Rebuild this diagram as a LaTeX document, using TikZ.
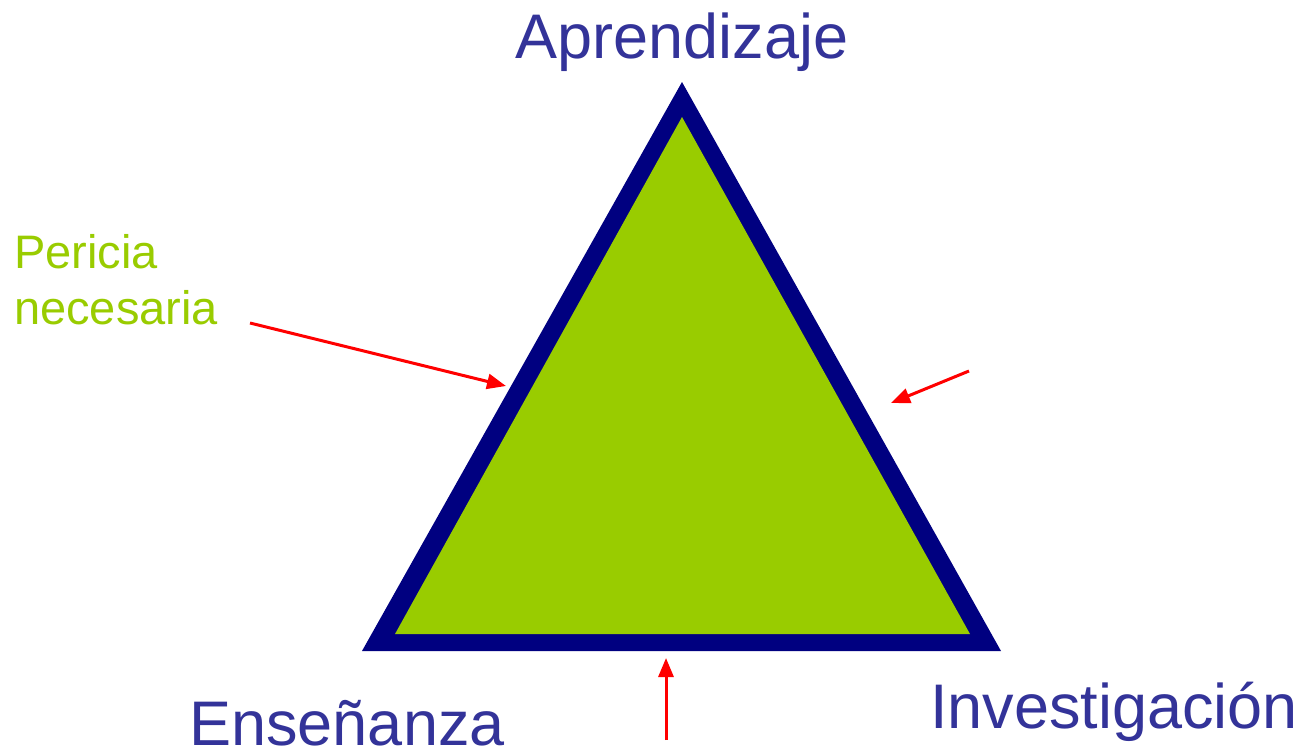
\documentclass[tikz,border=0pt]{standalone}
\usepackage{fontspec}
\setmainfont{Liberation Sans}
\usetikzlibrary{arrows.meta}
\definecolor{navy}{HTML}{000080}
\definecolor{lime}{HTML}{99CC00}
\definecolor{txtblue}{HTML}{333399}
\definecolor{arrred}{HTML}{FF0000}
\begin{document}
\begin{tikzpicture}[x=1pt,y=-1pt,
  bigtxt/.style={inner sep=0pt,text=txtblue,font=\fontsize{63}{75}\selectfont,anchor=base},
  greentxt/.style={inner sep=0pt,text=lime,font=\fontsize{47}{56}\selectfont,anchor=base west},
  redarrow/.style={draw=arrred,line width=3pt,-{Triangle[length=19pt,width=15pt]}}]
\useasboundingbox[fill=white] (0,0) rectangle (1309,750);
% triangle
\coordinate (A) at (682,82);
\coordinate (B) at (362,651);
\coordinate (C) at (1001,651);
\coordinate (Ai) at (682,117);
\coordinate (Bi) at (395,634);
\coordinate (Ci) at (970,634);
\fill[navy] (A) -- (B) -- (C) -- cycle;
\fill[lime] (Ai) -- (Bi) -- (Ci) -- cycle;
% labels
\node[bigtxt] (apr) at (682,58) {Aprendizaje};
\node[bigtxt] (ens) at (347,745) {Enseñanza};
\node[bigtxt] (inv) at (1114,728) {Investigación};
\node[greentxt] (per1) at (14,268) {Pericia};
\node[greentxt] (per2) at (14,324) {necesaria};
% arrows
\coordinate (s1) at (250,323);
\coordinate (t1) at (506,386);
\coordinate (s2) at (969,371);
\coordinate (t2) at (891,403);
\coordinate (s3) at (666,740);
\coordinate (t3) at (666,658);
\draw[redarrow] (s1) -- (t1);
\draw[redarrow] (s2) -- (t2);
\draw[redarrow] (s3) -- (t3);
\end{tikzpicture}
\end{document}
